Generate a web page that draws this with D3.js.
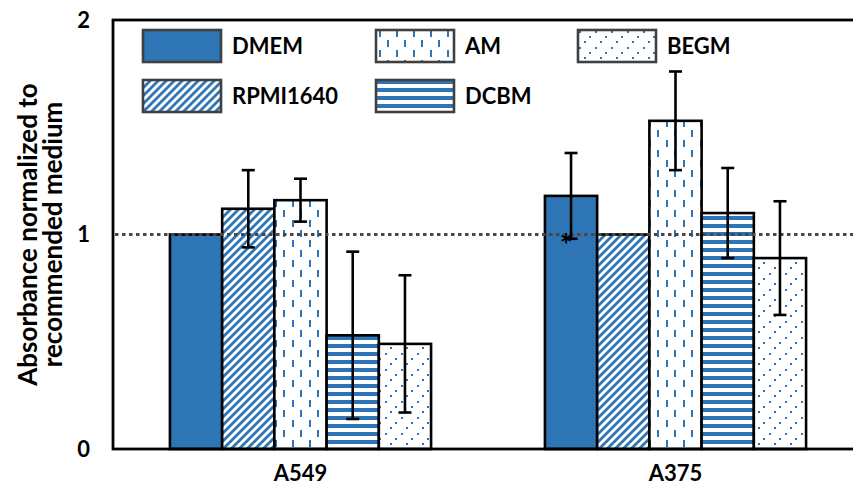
<!DOCTYPE html>
<html>
<head>
<meta charset="utf-8">
<script src="https://cdn.jsdelivr.net/npm/d3@7"></script>
<style>
  body { margin: 0; background: #fff; }
  svg { display: block; }
  text { font-family: Lato, "Open Sans", sans-serif; font-weight: 700; fill: #000; }
</style>
</head>
<body>
<svg id="chart" width="853" height="487"></svg>
<script>
// Cell lines on the x axis and the culture media compared in each group
const categories = ["A549", "A375"];
const seriesNames = ["DMEM", "RPMI1640", "AM", "DCBM", "BEGM"];

// Mean absorbance, normalized to the recommended medium
const dmem     = [1.00, 1.18];
const rpmi1640 = [1.12, 1.00];
const am       = [1.16, 1.53];
const dcbm     = [0.53, 1.10];
const begm     = [0.49, 0.89];

// Standard deviations (0 = no bar, the recommended medium itself)
const dmemErr     = [0, 0.20];
const rpmi1640Err = [0.18, 0];
const amErr       = [0.10, 0.23];
const dcbmErr     = [0.39, 0.21];
const begmErr     = [0.32, 0.265];

const yTicks = [0, 1, 2];
const referenceLevel = 1;
const significance = [{ category: "A375", series: "DMEM", mark: "*" }];

const seriesValues = [dmem, rpmi1640, am, dcbm, begm];
const seriesErrors = [dmemErr, rpmi1640Err, amErr, dcbmErr, begmErr];

const rows = [];
categories.forEach((c, ci) => {
  seriesNames.forEach((s, si) => {
    rows.push({ category: c, series: s, value: seriesValues[si][ci], err: seriesErrors[si][ci] });
  });
});

const W = 853, H = 487;
const margin = { left: 113, top: 20, right: -10, bottom: 38 };
const plotRight = W - margin.right;
const plotBottom = H - margin.bottom;
const blue = "#2E75B6";
const fontSize = 22;
const titleSize = 26;

const svg = d3.select("#chart");

// ---- fill patterns ----
const defs = svg.append("defs");
function pattern(id, w, h) {
  const p = defs.append("pattern").attr("id", id)
    .attr("patternUnits", "userSpaceOnUse").attr("width", w).attr("height", h);
  p.append("rect").attr("width", w).attr("height", h).attr("fill", "#fff");
  return p;
}
// wide upward diagonal
pattern("pat-diag", 8, 8).append("path")
  .attr("d", "M-2,2 L2,-2 M0,8 L8,0 M6,10 L10,6")
  .attr("stroke", blue).attr("stroke-width", 2.8);
// dashed vertical
const pDash = pattern("pat-dash", 17, 20);
pDash.append("rect").attr("x", 3).attr("y", 0).attr("width", 2).attr("height", 7).attr("fill", blue);
pDash.append("rect").attr("x", 11).attr("y", 10).attr("width", 2).attr("height", 7).attr("fill", blue);
// wide horizontal
pattern("pat-horiz", 8, 8).append("rect")
  .attr("x", 0).attr("y", 0).attr("width", 8).attr("height", 4).attr("fill", blue);
// sparse dots
const pDots = pattern("pat-dots", 16, 16);
[[1, 1], [11, 6], [6, 11]].forEach(([x, y]) =>
  pDots.append("rect").attr("x", x).attr("y", y).attr("width", 2).attr("height", 2).attr("fill", blue));

const fills = {
  DMEM: blue,
  RPMI1640: "url(#pat-diag)",
  AM: "url(#pat-dash)",
  DCBM: "url(#pat-horiz)",
  BEGM: "url(#pat-dots)"
};

// ---- scales ----
const x0 = d3.scaleBand().domain(categories).range([margin.left, plotRight]).padding(0);
const gapRatio = 2.18; // gap between groups, in bar widths
const barW = x0.bandwidth() / (seriesNames.length + gapRatio);
const groupW = barW * seriesNames.length;
const x1 = d3.scaleBand().domain(seriesNames)
  .range([(x0.bandwidth() - groupW) / 2, (x0.bandwidth() + groupW) / 2]).padding(0);
const y = d3.scaleLinear().domain([0, 2]).range([plotBottom, margin.top]);

// ---- bars ----
svg.append("g").selectAll("rect").data(rows).join("rect")
  .attr("x", d => x0(d.category) + x1(d.series))
  .attr("y", d => y(d.value))
  .attr("width", x1.bandwidth())
  .attr("height", d => y(0) - y(d.value))
  .attr("fill", d => fills[d.series])
  .attr("stroke", "#000").attr("stroke-width", 2.6);

// ---- plot area border ----
svg.append("rect")
  .attr("x", margin.left).attr("y", margin.top)
  .attr("width", plotRight - margin.left).attr("height", plotBottom - margin.top)
  .attr("fill", "none").attr("stroke", "#000").attr("stroke-width", 2.8);

// ---- reference line at the recommended-medium level ----
svg.append("line")
  .attr("x1", margin.left + 2).attr("x2", plotRight)
  .attr("y1", y(referenceLevel)).attr("y2", y(referenceLevel))
  .attr("stroke", "#474747").attr("stroke-width", 3.2).attr("stroke-dasharray", "3.5,3.5");

// ---- error bars ----
const cap = 6.5;
const eg = svg.append("g").attr("stroke", "#000").attr("stroke-width", 2.6);
rows.filter(d => d.err > 0).forEach(d => {
  const cx = x0(d.category) + x1(d.series) + x1.bandwidth() / 2;
  const yt = y(d.value + d.err), yb = y(d.value - d.err);
  eg.append("line").attr("x1", cx).attr("x2", cx).attr("y1", yt).attr("y2", yb);
  eg.append("line").attr("x1", cx - cap).attr("x2", cx + cap).attr("y1", yt).attr("y2", yt);
  eg.append("line").attr("x1", cx - cap).attr("x2", cx + cap).attr("y1", yb).attr("y2", yb);
});

// ---- significance marks ----
significance.forEach(s => {
  const d = rows.find(r => r.category === s.category && r.series === s.series);
  const cx = x0(d.category) + x1(d.series) + x1.bandwidth() / 2;
  svg.append("text")
    .attr("x", cx - 5).attr("y", y(d.value - d.err) + 17)
    .attr("text-anchor", "middle")
    .style("font-size", "30px")
    .text(s.mark);
});

// ---- axes ----
const yAxis = svg.append("g").attr("transform", `translate(${margin.left},0)`)
  .call(d3.axisLeft(y).tickValues(yTicks).tickFormat(d3.format("d")).tickSize(0).tickPadding(23));
yAxis.select(".domain").remove();
yAxis.selectAll("text").style("font-size", fontSize + "px").style("font-family", null);

const xAxis = svg.append("g").attr("transform", `translate(0,${plotBottom})`)
  .call(d3.axisBottom(x0).tickSize(0).tickPadding(16));
xAxis.select(".domain").remove();
xAxis.selectAll("text").style("font-size", fontSize + "px").style("font-family", null);

// y axis title
const yTitle = svg.append("text")
  .attr("transform", `translate(0,${(margin.top + plotBottom) / 2}) rotate(-90)`)
  .attr("text-anchor", "middle")
  .style("font-size", titleSize + "px");
yTitle.append("tspan").attr("x", 0).attr("y", 37).text("Absorbance normalized to");
yTitle.append("tspan").attr("x", 0).attr("y", 62).text("recommended medium");

// ---- legend (two rows, filled column by column) ----
const legendCols = [143, 376, 578];
const legendRows = [30, 80];
const swW = 78, swH = 32;
const legend = svg.append("g");
seriesNames.forEach((s, i) => {
  const col = Math.floor(i / 2), row = i % 2;
  const gx = legendCols[col], gy = legendRows[row];
  const g = legend.append("g").attr("transform", `translate(${gx},${gy})`);
  g.append("rect").attr("width", swW).attr("height", swH)
    .attr("fill", fills[s]).attr("stroke", "#404040").attr("stroke-width", 2.6);
  g.append("text").attr("x", 89).attr("y", swH / 2 + fontSize * 0.36)
    .style("font-size", fontSize + "px").text(s);
});
</script>
</body>
</html>
